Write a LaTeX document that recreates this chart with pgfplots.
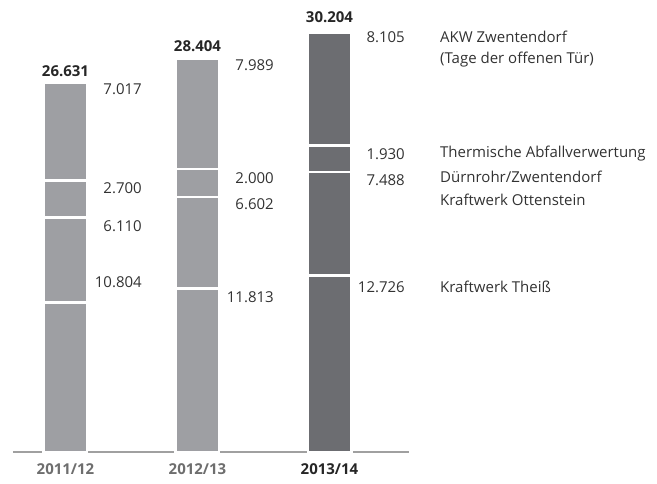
\documentclass[border=0pt]{standalone}
\usepackage{pgfplots}
\pgfplotsset{compat=1.18}
\usepackage{fontspec}
\setmainfont{Open Sans}
\definecolor{lightbar}{RGB}{158,159,163}
\definecolor{darkbar}{RGB}{108,109,113}
\definecolor{basel}{RGB}{160,160,160}
\definecolor{txt}{RGB}{50,50,50}
\definecolor{cat}{RGB}{110,110,110}
\pgfplotsset{
  base/.style={
    scale only axis, width=657pt, height=484pt,
    xmin=-0.4962, xmax=4.4811, ymin=-2310, ymax=32635,
    hide axis, clip=false,
  },
  stk/.style={base, ybar stacked, bar width=43.5pt},
}
\begin{document}
\fontsize{15pt}{18pt}\selectfont
\begin{tikzpicture}
\begin{axis}[base]
\addplot[basel, line width=1.1pt, no marks] coordinates {(-0.398,0) (2.602,0)};
\end{axis}
\begin{axis}[stk]
\addplot[fill=lightbar, draw=white, line width=2.5pt] coordinates {(0,10804) (1,11813)};
\addplot[fill=lightbar, draw=white, line width=2.5pt] coordinates {(0,6110) (1,6602)};
\addplot[fill=lightbar, draw=white, line width=2.5pt] coordinates {(0,2700) (1,2000)};
\addplot[fill=lightbar, draw=white, line width=2.5pt] coordinates {(0,7017) (1,7989)};
\end{axis}
\begin{axis}[stk]
\addplot[fill=darkbar, draw=white, line width=2.5pt] coordinates {(2,12726)};
\addplot[fill=darkbar, draw=white, line width=2.5pt] coordinates {(2,7488)};
\addplot[fill=darkbar, draw=white, line width=2.5pt] coordinates {(2,1930)};
\addplot[fill=darkbar, draw=white, line width=2.5pt] coordinates {(2,8105)};
\end{axis}
\begin{axis}[base]
\path (rel axis cs:0,0) rectangle (rel axis cs:1,1);
% value labels
\begin{scope}[every node/.style={text=txt, anchor=east, inner sep=0pt}]
\node at (axis cs:0.5795,26209) {7.017};
\node at (axis cs:0.5795,19061) {2.700};
\node at (axis cs:0.5795,16317) {6.110};
\node at (axis cs:0.5795,12274) {10.804};
\node at (axis cs:1.5795,27941) {7.989};
\node at (axis cs:1.5795,19783) {2.000};
\node at (axis cs:1.5795,17906) {6.602};
\node at (axis cs:1.5795,11191) {11.813};
\node at (axis cs:2.572,29963) {8.105};
\node at (axis cs:2.572,21516) {1.930};
\node at (axis cs:2.572,19638) {7.488};
\node at (axis cs:2.572,11913) {12.726};
\end{scope}
\begin{scope}[every node/.style={text=txt, anchor=west, inner sep=0pt}]
\node at (axis cs:2.837,29963) {AKW Zwentendorf};
\node at (axis cs:2.837,28302) {(Tage der offenen Tür)};
\node at (axis cs:2.837,21516) {Thermische Abfallverwertung};
\node at (axis cs:2.837,19855) {Dürnrohr/Zwentendorf};
\node at (axis cs:2.837,18194) {Kraftwerk Ottenstein};
\node at (axis cs:2.837,11913) {Kraftwerk Theiß};
\end{scope}
\begin{scope}[every node/.style={inner sep=0pt, font=\bfseries}]
\node[text=black!85] at (axis cs:0,27508) {26.631};
\node[text=black!85] at (axis cs:1,29313) {28.404};
\node[text=black!85] at (axis cs:2,31407) {30.204};
\node[text=cat] at (axis cs:0,-1227) {2011/12};
\node[text=cat] at (axis cs:1,-1227) {2012/13};
\node[text=black!85] at (axis cs:2,-1227) {2013/14};
\end{scope}
\end{axis}
\end{tikzpicture}
\end{document}
